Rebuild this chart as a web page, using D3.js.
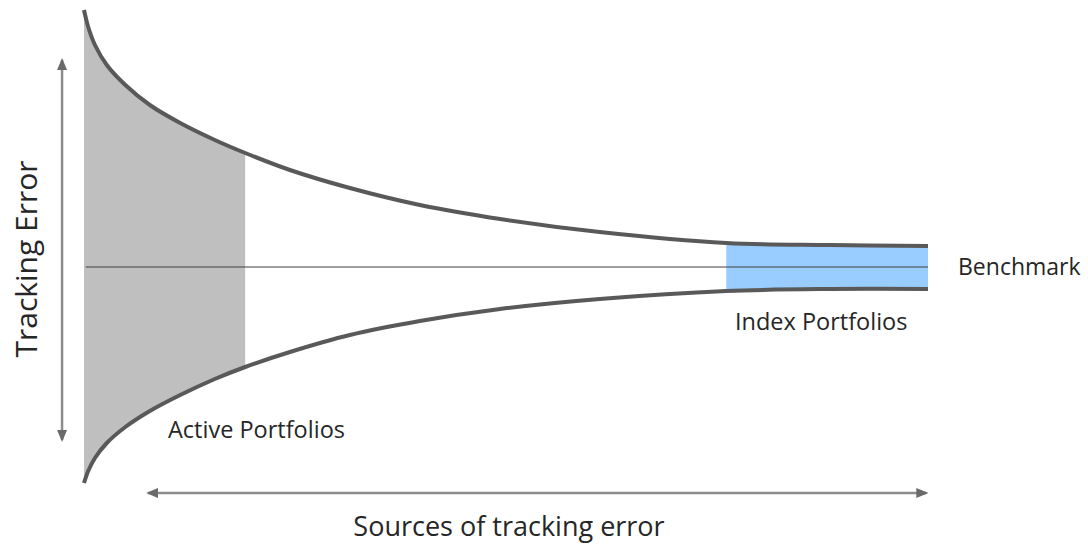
<!DOCTYPE html>
<html>
<head>
<meta charset="utf-8">
<script src="https://cdn.jsdelivr.net/npm/d3@7"></script>
<style>
  html, body { margin: 0; padding: 0; background: #fff; }
  svg { display: block; }
  .label { font-family: "Open Sans", sans-serif; fill: #262626; }
</style>
</head>
<body>
<div class="chart"></div>
<script>
const w = 1088;
const h = 544;

// position along "sources of tracking error" (0..100)
const xs =    [0, 0.5, 1.3, 2.7, 4.9, 7.8, 11.4, 15.5, 19.1, 24.4, 31.5, 39.8, 49.3, 61.1, 76.1, 88.4, 100];
// tracking error around the benchmark (0)
const upper = [25.7, 24.0, 22.2, 20.2, 18.2, 16.2, 14.4, 12.7, 11.4, 9.7, 7.9, 6.2, 4.8, 3.5, 2.4, 2.2, 2.1];
const lower = [-21.6, -20.4, -19.1, -17.6, -16.0, -14.4, -12.8, -11.2, -10.0, -8.5, -6.8, -5.4, -4.2, -3.2, -2.4, -2.2, -2.2];

const activeRange = [0, 19.1];
const indexRange = [76.1, 100];
const benchmark = [0.2, 100];

const labels = {
  yTitle: "Tracking Error",
  xTitle: "Sources of tracking error",
  active: "Active Portfolios",
  index: "Index Portfolios",
  bench: "Benchmark"
};

const funnel = xs.map((x, i) => ({ x: x, hi: upper[i], lo: lower[i] }));

const x = d3.scaleLinear().domain([0, 100]).range([84, 928]);
const y = d3.scaleLinear().domain([-25, 25]).range([517, 17]);

const svg = d3.select(".chart")
  .append("svg")
  .attr("width", w)
  .attr("height", h);

const defs = svg.append("defs");
defs.append("marker")
  .attr("id", "arrow")
  .attr("viewBox", "0 0 12 12")
  .attr("refX", 10).attr("refY", 6)
  .attr("markerWidth", 12).attr("markerHeight", 12)
  .attr("markerUnits", "userSpaceOnUse")
  .attr("orient", "auto-start-reverse")
  .append("path")
  .attr("d", "M0,1 L12,6 L0,11 Z")
  .attr("fill", "#6a6a6a");

const curve = d3.curveCatmullRom.alpha(0.5);

const area = d3.area()
  .x(d => x(d.x))
  .y0(d => y(d.lo))
  .y1(d => y(d.hi))
  .curve(curve);

// shaded areas
svg.append("path")
  .datum(funnel.filter(d => d.x >= activeRange[0] && d.x <= activeRange[1]))
  .attr("d", area)
  .attr("fill", "#bfbfbf");

svg.append("path")
  .datum(funnel.filter(d => d.x >= indexRange[0] && d.x <= indexRange[1]))
  .attr("d", area)
  .attr("fill", "#99ccff");

// benchmark line
svg.append("line")
  .attr("x1", x(benchmark[0])).attr("x2", x(benchmark[1]))
  .attr("y1", y(0)).attr("y2", y(0))
  .attr("stroke", "#404040")
  .attr("stroke-width", 1.2);

// funnel edges
const line = d3.line().curve(curve);
svg.append("path")
  .attr("d", line(funnel.map(d => [x(d.x), y(d.hi)])))
  .attr("fill", "none")
  .attr("stroke", "#595959")
  .attr("stroke-width", 4);
svg.append("path")
  .attr("d", line(funnel.map(d => [x(d.x), y(d.lo)])))
  .attr("fill", "none")
  .attr("stroke", "#595959")
  .attr("stroke-width", 4);

// axis arrows
svg.append("line")
  .attr("x1", x(-2.6)).attr("x2", x(-2.6))
  .attr("y1", y(-17.3)).attr("y2", y(20.7))
  .attr("stroke", "#8c8c8c").attr("stroke-width", 2.5)
  .attr("marker-start", "url(#arrow)")
  .attr("marker-end", "url(#arrow)");

svg.append("line")
  .attr("x1", x(7.6)).attr("x2", x(99.8))
  .attr("y1", y(-22.6)).attr("y2", y(-22.6))
  .attr("stroke", "#8c8c8c").attr("stroke-width", 2.5)
  .attr("marker-start", "url(#arrow)")
  .attr("marker-end", "url(#arrow)");

// labels
svg.append("text")
  .attr("class", "label")
  .attr("transform", `translate(${37},${259}) rotate(-90)`)
  .attr("text-anchor", "middle")
  .style("font-size", "30px")
  .text(labels.yTitle);

svg.append("text")
  .attr("class", "label")
  .attr("x", 509).attr("y", 536)
  .attr("text-anchor", "middle")
  .style("font-size", "27px")
  .text(labels.xTitle);

svg.append("text")
  .attr("class", "label")
  .attr("x", 168).attr("y", 438)
  .style("font-size", "23.5px")
  .text(labels.active);

svg.append("text")
  .attr("class", "label")
  .attr("x", 735).attr("y", 330)
  .style("font-size", "23.5px")
  .text(labels.index);

svg.append("text")
  .attr("class", "label")
  .attr("x", 958).attr("y", 275)
  .style("font-size", "23px")
  .text(labels.bench);
</script>
</body>
</html>
